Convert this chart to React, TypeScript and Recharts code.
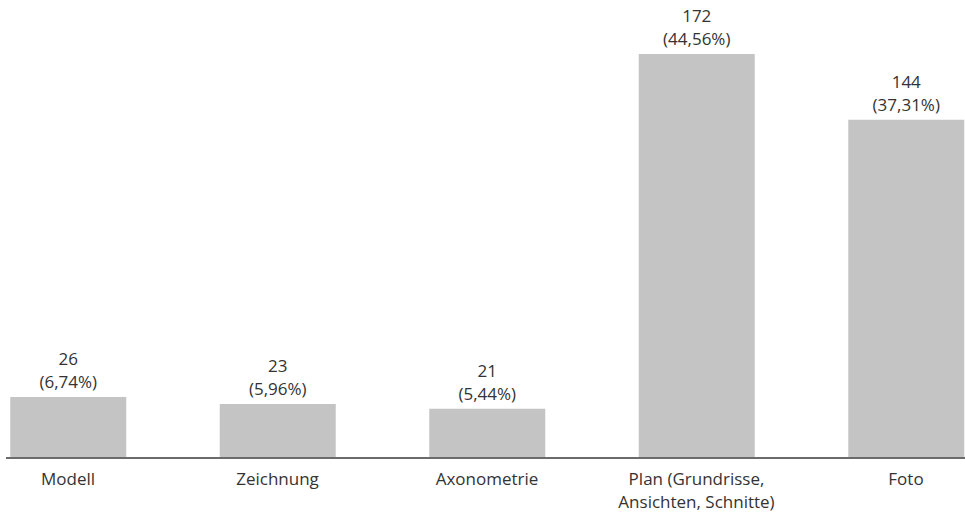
import React from 'react';
import { BarChart, Bar, XAxis, YAxis, LabelList } from 'recharts';

const categories = ['Modell', 'Zeichnung', 'Axonometrie', 'Plan (Grundrisse,\nAnsichten, Schnitte)', 'Foto'];
const counts = [26, 23, 21, 172, 144];
const percentLabels = ['(6,74%)', '(5,96%)', '(5,44%)', '(44,56%)', '(37,31%)'];

const data = categories.map((c, i) => ({ category: c, count: counts[i], pct: percentLabels[i] }));

const FONT = "'Open Sans', sans-serif";
const TEXT = '#333333';

const Tick = (props: any) => {
  const { x, y, payload } = props;
  const lines = String(payload.value).split('\n');
  return (
    <text x={x} y={y} textAnchor="middle" fill={TEXT} fontFamily={FONT} fontSize={17}>
      {lines.map((l, i) => (
        <tspan key={i} x={x} dy={i === 0 ? 27 : 22.5}>{l}</tspan>
      ))}
    </text>
  );
};

const BarLabel = (props: any) => {
  const { x, y, width, index } = props;
  const cx = x + width / 2;
  return (
    <text x={cx} y={y} textAnchor="middle" fill={TEXT} fontFamily={FONT} fontSize={17}>
      <tspan x={cx} y={y - 32}>{counts[index]}</tspan>
      <tspan x={cx} y={y - 9}>{percentLabels[index]}</tspan>
    </text>
  );
};

export default function App() {
  return (
    <div style={{ position: 'absolute', left: 0, top: 0, width: 965, height: 515, background: '#fff' }}>
      <BarChart width={965} height={515} data={data} margin={{ top: 54, right: 0, bottom: 0, left: 6 }}>
        <XAxis
          dataKey="category"
          interval={0}
          height={57}
          tickLine={false}
          tickSize={0}
          tickMargin={0}
          axisLine={{ stroke: '#6b6b6b', strokeWidth: 2 }}
          padding={{ left: -42.75, right: -45.75 }}
          tick={<Tick />}
        />
        <YAxis hide domain={[0, 172]} allowDataOverflow />
        <Bar dataKey="count" fill="#c4c4c4" barSize={116} isAnimationActive={false}>
          <LabelList dataKey="count" content={<BarLabel />} />
        </Bar>
      </BarChart>
    </div>
  );
}
